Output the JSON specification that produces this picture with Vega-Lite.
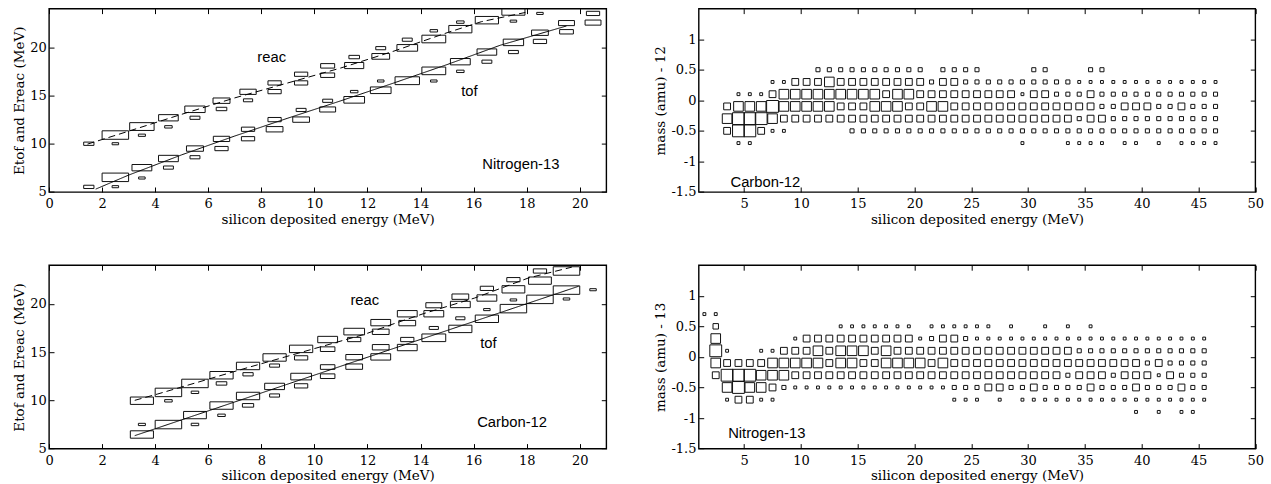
{
"$schema": "https://vega.github.io/schema/vega-lite/v6.json",
"padding": {"left": 12, "top": 6.6, "right": 5, "bottom": 2},
"background": "white",
"config": {
  "view": {"stroke": "black", "strokeWidth": 1.4},
  "axis": {"domain": false, "grid": false, "ticks": true, "tickColor": "black", "tickSize": -5, "tickWidth": 1, "labelFont": "DejaVu Serif", "labelFontSize": 13, "labelColor": "black", "labelFlush": false, "labelOverlap": false, "titleFont": "DejaVu Serif", "titleFontSize": 13.5, "titleFontWeight": "normal", "titleColor": "black"},
  "axisX": {"labelPadding": 10.8, "titlePadding": 1.5},
  "axisY": {"labelPadding": 7.7, "titlePadding": 3}
},
"resolve": {"scale": {"size": "independent", "strokeDash": "independent"}},
"datasets": {
  "tlb": [
    {"x":1.5,"y":10,"n":0.15},{"x":1.5,"y":5.53,"n":0.15},
    {"x":2.5,"y":10.9,"n":1},{"x":2.5,"y":10,"n":0.06},{"x":2.5,"y":6.52,"n":1},{"x":2.5,"y":5.55,"n":0.06},
    {"x":3.5,"y":11.78,"n":0.85},{"x":3.5,"y":10.88,"n":0.07},{"x":3.5,"y":7.52,"n":0.56},{"x":3.5,"y":6.45,"n":0.06},
    {"x":4.5,"y":12.69,"n":0.55},{"x":4.5,"y":11.75,"n":0.08},{"x":4.5,"y":8.47,"n":0.56},{"x":4.5,"y":7.53,"n":0.14},
    {"x":5.5,"y":13.57,"n":0.59},{"x":5.5,"y":12.69,"n":0.14},{"x":5.5,"y":9.5,"n":0.41},{"x":5.5,"y":8.6,"n":0.14},
    {"x":6.5,"y":14.46,"n":0.41},{"x":6.5,"y":13.6,"n":0.16},{"x":6.5,"y":10.5,"n":0.38},{"x":6.5,"y":9.5,"n":0.25},
    {"x":7.5,"y":15.38,"n":0.38},{"x":7.5,"y":14.5,"n":0.12},{"x":7.5,"y":11.5,"n":0.25},{"x":7.5,"y":10.52,"n":0.25},
    {"x":8.5,"y":16.3,"n":0.25},{"x":8.5,"y":15.4,"n":0.25},{"x":8.5,"y":12.5,"n":0.25},{"x":8.5,"y":11.5,"n":0.4},
    {"x":9.5,"y":17.2,"n":0.25},{"x":9.5,"y":16.3,"n":0.25},{"x":9.5,"y":12.5,"n":0.4},{"x":9.5,"y":13.5,"n":0.14},
    {"x":10.5,"y":18.07,"n":0.28},{"x":10.5,"y":17.1,"n":0.28},{"x":10.5,"y":13.55,"n":0.36},{"x":10.5,"y":14.45,"n":0.14},
    {"x":11.5,"y":18.1,"n":0.52},{"x":11.5,"y":18.98,"n":0.16},{"x":11.5,"y":14.55,"n":0.61},{"x":11.5,"y":15.4,"n":0.08},
    {"x":12.5,"y":19.05,"n":0.45},{"x":12.5,"y":19.9,"n":0.14},{"x":12.5,"y":15.54,"n":0.61},{"x":12.5,"y":16.5,"n":0.06},
    {"x":13.5,"y":19.93,"n":0.61},{"x":13.5,"y":20.78,"n":0.14},{"x":13.5,"y":16.53,"n":0.85},
    {"x":14.5,"y":20.85,"n":0.81},{"x":14.5,"y":21.7,"n":0.08},{"x":14.5,"y":17.55,"n":0.81},{"x":14.5,"y":16.5,"n":0.06},
    {"x":15.5,"y":21.87,"n":0.76},{"x":15.5,"y":22.6,"n":0.08},{"x":15.5,"y":18.5,"n":0.56},{"x":15.5,"y":17.5,"n":0.08},
    {"x":16.5,"y":22.8,"n":0.77},{"x":16.5,"y":19.5,"n":0.55},{"x":16.5,"y":18.5,"n":0.14},
    {"x":17.5,"y":23.7,"n":0.76},{"x":17.5,"y":22.7,"n":0.06},{"x":17.5,"y":20.5,"n":0.59},{"x":17.5,"y":19.5,"n":0.14},
    {"x":18.5,"y":23.5,"n":0.06},{"x":18.5,"y":21.5,"n":0.4},{"x":18.5,"y":20.6,"n":0.25},
    {"x":19.5,"y":22.5,"n":0.36},{"x":19.5,"y":21.6,"n":0.27},
    {"x":20.5,"y":23.5,"n":0.25},{"x":20.5,"y":22.55,"n":0.36}
  ],
  "tll": [
    {"s":"tof","x":1.76,"y":5.3},{"s":"tof","x":3,"y":6.75},{"s":"tof","x":5,"y":8.85},{"s":"tof","x":7,"y":10.8},{"s":"tof","x":9,"y":12.65},{"s":"tof","x":11,"y":14.45},{"s":"tof","x":13,"y":16.3},{"s":"tof","x":15,"y":18.2},{"s":"tof","x":17,"y":20.2},{"s":"tof","x":19.5,"y":22.2},
    {"s":"reac","x":1.45,"y":9.96},{"s":"reac","x":3,"y":11.3},{"s":"reac","x":5,"y":13.05},{"s":"reac","x":7,"y":14.75},{"s":"reac","x":9,"y":16.3},{"s":"reac","x":11,"y":17.85},{"s":"reac","x":13,"y":19.6},{"s":"reac","x":15,"y":21.5},{"s":"reac","x":16.3,"y":22.65},{"s":"reac","x":17.95,"y":23.6}
  ],
  "tlt": [{"x":8.39,"y":18.93,"t":"reac"},{"x":15.84,"y":15.41,"t":"tof"},{"x":17.78,"y":7.83,"t":"Nitrogen-13"}],
  "blb": [
    {"x":3.5,"y":9.96,"n":0.76},{"x":3.5,"y":6.46,"n":0.76},{"x":3.5,"y":7.5,"n":0.07},
    {"x":4.5,"y":10.82,"n":1},{"x":4.5,"y":9.95,"n":0.08},{"x":4.5,"y":7.49,"n":1},
    {"x":5.5,"y":11.75,"n":1},{"x":5.5,"y":10.83,"n":0.08},{"x":5.5,"y":8.47,"n":0.74},{"x":5.5,"y":7.5,"n":0.08},
    {"x":6.5,"y":12.6,"n":0.77},{"x":6.5,"y":11.75,"n":0.16},{"x":6.5,"y":9.46,"n":0.77},{"x":6.5,"y":8.45,"n":0.08},
    {"x":7.5,"y":13.56,"n":0.77},{"x":7.5,"y":12.7,"n":0.15},{"x":7.5,"y":10.45,"n":0.77},{"x":7.5,"y":9.48,"n":0.18},
    {"x":8.5,"y":14.44,"n":0.77},{"x":8.5,"y":13.6,"n":0.14},{"x":8.5,"y":11.44,"n":0.56},{"x":8.5,"y":10.5,"n":0.14},
    {"x":9.5,"y":15.33,"n":0.77},{"x":9.5,"y":14.4,"n":0.25},{"x":9.5,"y":12.46,"n":0.61},{"x":9.5,"y":11.5,"n":0.25},
    {"x":10.5,"y":16.3,"n":0.56},{"x":10.5,"y":15.3,"n":0.3},{"x":10.5,"y":13.45,"n":0.3},{"x":10.5,"y":12.5,"n":0.3},
    {"x":11.5,"y":17.12,"n":0.61},{"x":11.5,"y":16.3,"n":0.25},{"x":11.5,"y":14.47,"n":0.4},{"x":11.5,"y":13.49,"n":0.4},
    {"x":12.5,"y":18.05,"n":0.56},{"x":12.5,"y":17.1,"n":0.4},{"x":12.5,"y":15.5,"n":0.4},{"x":12.5,"y":14.5,"n":0.56},
    {"x":13.5,"y":18.97,"n":0.56},{"x":13.5,"y":18.0,"n":0.4},{"x":13.5,"y":16.3,"n":0.25},{"x":13.5,"y":15.47,"n":0.56},
    {"x":14.5,"y":19.85,"n":0.36},{"x":14.5,"y":18.97,"n":0.56},{"x":14.5,"y":16.48,"n":0.81},{"x":14.5,"y":17.5,"n":0.12},
    {"x":15.5,"y":20.74,"n":0.4},{"x":15.5,"y":19.93,"n":0.56},{"x":15.5,"y":17.4,"n":0.76},{"x":15.5,"y":18.5,"n":0.12},
    {"x":16.5,"y":21.6,"n":0.25},{"x":16.5,"y":20.6,"n":0.56},{"x":16.5,"y":18.45,"n":0.77},{"x":16.5,"y":19.4,"n":0.06},
    {"x":17.5,"y":22.5,"n":0.25},{"x":17.5,"y":21.5,"n":0.74},{"x":17.5,"y":19.5,"n":1},{"x":17.5,"y":20.4,"n":0.06},
    {"x":18.5,"y":23.4,"n":0.25},{"x":18.5,"y":22.4,"n":0.74},{"x":18.5,"y":20.46,"n":1},
    {"x":19.5,"y":23.4,"n":1},{"x":19.5,"y":21.42,"n":1},{"x":19.5,"y":20.5,"n":0.06},
    {"x":20.5,"y":21.46,"n":0.06}
  ],
  "bll": [
    {"s":"tof","x":3.23,"y":6.34},{"s":"tof","x":11.5,"y":14.0},{"s":"tof","x":19.96,"y":21.82},
    {"s":"reac","x":3.23,"y":10.0},{"s":"reac","x":4.1,"y":10.66},{"s":"reac","x":7.5,"y":13.4},{"s":"reac","x":11.9,"y":16.85},{"s":"reac","x":13,"y":17.94},{"s":"reac","x":14.1,"y":18.97},{"s":"reac","x":16.04,"y":20.6},{"s":"reac","x":18.07,"y":22.68},{"s":"reac","x":19.7,"y":23.8}
  ],
  "blt": [{"x":11.9,"y":20.28,"t":"reac"},{"x":16.56,"y":15.88,"t":"tof"},{"x":17.45,"y":7.68,"t":"Carbon-12"}],
  "trb": [
    {"x":11.5,"y":0.5,"n":0.1},{"x":12.5,"y":0.5,"n":0.1},{"x":13.5,"y":0.5,"n":0.1},{"x":14.5,"y":0.5,"n":0.1},{"x":15.5,"y":0.5,"n":0.1},{"x":16.5,"y":0.5,"n":0.1},{"x":17.5,"y":0.5,"n":0.1},{"x":18.5,"y":0.5,"n":0.1},{"x":19.5,"y":0.5,"n":0.1},{"x":20.5,"y":0.5,"n":0.1},{"x":22.5,"y":0.5,"n":0.1},{"x":23.5,"y":0.5,"n":0.1},{"x":24.5,"y":0.5,"n":0.1},{"x":25.5,"y":0.5,"n":0.1},{"x":30.5,"y":0.5,"n":0.1},{"x":31.5,"y":0.5,"n":0.1},{"x":35.5,"y":0.5,"n":0.1},{"x":36.5,"y":0.5,"n":0.1},
    {"x":7.5,"y":0.3,"n":0.05},{"x":8.5,"y":0.3,"n":0.05},{"x":9.5,"y":0.3,"n":0.28},{"x":10.5,"y":0.3,"n":0.28},{"x":11.5,"y":0.3,"n":0.28},{"x":12.5,"y":0.3,"n":0.56},{"x":13.5,"y":0.3,"n":0.28},{"x":14.5,"y":0.3,"n":0.28},{"x":15.5,"y":0.3,"n":0.28},{"x":16.5,"y":0.3,"n":0.28},{"x":17.5,"y":0.3,"n":0.28},{"x":18.5,"y":0.3,"n":0.28},{"x":19.5,"y":0.3,"n":0.28},{"x":20.5,"y":0.3,"n":0.28},{"x":21.5,"y":0.3,"n":0.1},{"x":22.5,"y":0.3,"n":0.28},{"x":23.5,"y":0.3,"n":0.28},{"x":24.5,"y":0.3,"n":0.1},{"x":25.5,"y":0.3,"n":0.1},{"x":26.5,"y":0.3,"n":0.1},{"x":27.5,"y":0.3,"n":0.1},{"x":28.5,"y":0.3,"n":0.1},{"x":29.5,"y":0.3,"n":0.1},{"x":30.5,"y":0.3,"n":0.1},{"x":31.5,"y":0.3,"n":0.1},{"x":32.5,"y":0.3,"n":0.1},{"x":33.5,"y":0.3,"n":0.1},{"x":34.5,"y":0.3,"n":0.05},{"x":35.5,"y":0.3,"n":0.05},{"x":36.5,"y":0.3,"n":0.05},{"x":37.5,"y":0.3,"n":0.05},{"x":38.5,"y":0.3,"n":0.05},{"x":39.5,"y":0.3,"n":0.05},{"x":40.5,"y":0.3,"n":0.05},{"x":41.5,"y":0.3,"n":0.05},{"x":42.5,"y":0.3,"n":0.05},{"x":43.5,"y":0.3,"n":0.05},{"x":44.5,"y":0.3,"n":0.05},{"x":45.5,"y":0.3,"n":0.05},{"x":46.5,"y":0.3,"n":0.05},
    {"x":4.5,"y":0.1,"n":0.05},{"x":5.5,"y":0.1,"n":0.05},{"x":6.5,"y":0.1,"n":0.05},{"x":7.5,"y":0.1,"n":0.28},{"x":8.5,"y":0.1,"n":0.56},{"x":9.5,"y":0.1,"n":0.56},{"x":10.5,"y":0.1,"n":0.56},{"x":11.5,"y":0.1,"n":0.56},{"x":12.5,"y":0.1,"n":0.56},{"x":13.5,"y":0.1,"n":0.56},{"x":14.5,"y":0.1,"n":0.56},{"x":15.5,"y":0.1,"n":0.56},{"x":16.5,"y":0.1,"n":0.56},{"x":17.5,"y":0.1,"n":0.28},{"x":18.5,"y":0.1,"n":0.56},{"x":19.5,"y":0.1,"n":0.56},{"x":20.5,"y":0.1,"n":0.28},{"x":21.5,"y":0.1,"n":0.28},{"x":22.5,"y":0.1,"n":0.28},{"x":23.5,"y":0.1,"n":0.28},{"x":24.5,"y":0.1,"n":0.28},{"x":25.5,"y":0.1,"n":0.28},{"x":26.5,"y":0.1,"n":0.28},{"x":27.5,"y":0.1,"n":0.28},{"x":28.5,"y":0.1,"n":0.28},{"x":29.5,"y":0.1,"n":0.05},{"x":30.5,"y":0.1,"n":0.28},{"x":31.5,"y":0.1,"n":0.28},{"x":32.5,"y":0.1,"n":0.1},{"x":33.5,"y":0.1,"n":0.1},{"x":34.5,"y":0.1,"n":0.1},{"x":35.5,"y":0.1,"n":0.28},{"x":36.5,"y":0.1,"n":0.1},{"x":37.5,"y":0.1,"n":0.1},{"x":38.5,"y":0.1,"n":0.1},{"x":39.5,"y":0.1,"n":0.1},{"x":40.5,"y":0.1,"n":0.1},{"x":41.5,"y":0.1,"n":0.1},{"x":42.5,"y":0.1,"n":0.1},{"x":43.5,"y":0.1,"n":0.1},{"x":44.5,"y":0.1,"n":0.1},{"x":45.5,"y":0.1,"n":0.1},{"x":46.5,"y":0.1,"n":0.1},
    {"x":3.5,"y":-0.1,"n":0.28},{"x":4.5,"y":-0.1,"n":0.56},{"x":5.5,"y":-0.1,"n":0.56},{"x":6.5,"y":-0.1,"n":0.56},{"x":7.5,"y":-0.1,"n":0.85},{"x":8.5,"y":-0.1,"n":0.56},{"x":9.5,"y":-0.1,"n":0.56},{"x":10.5,"y":-0.1,"n":0.56},{"x":11.5,"y":-0.1,"n":0.56},{"x":12.5,"y":-0.1,"n":0.56},{"x":13.5,"y":-0.1,"n":0.28},{"x":14.5,"y":-0.1,"n":0.28},{"x":15.5,"y":-0.1,"n":0.28},{"x":16.5,"y":-0.1,"n":0.56},{"x":17.5,"y":-0.1,"n":0.56},{"x":18.5,"y":-0.1,"n":0.56},{"x":19.5,"y":-0.1,"n":0.28},{"x":20.5,"y":-0.1,"n":0.28},{"x":21.5,"y":-0.1,"n":0.56},{"x":22.5,"y":-0.1,"n":0.56},{"x":23.5,"y":-0.1,"n":0.28},{"x":24.5,"y":-0.1,"n":0.28},{"x":25.5,"y":-0.1,"n":0.28},{"x":26.5,"y":-0.1,"n":0.28},{"x":27.5,"y":-0.1,"n":0.28},{"x":28.5,"y":-0.1,"n":0.28},{"x":29.5,"y":-0.1,"n":0.28},{"x":30.5,"y":-0.1,"n":0.28},{"x":31.5,"y":-0.1,"n":0.28},{"x":32.5,"y":-0.1,"n":0.28},{"x":33.5,"y":-0.1,"n":0.28},{"x":34.5,"y":-0.1,"n":0.28},{"x":35.5,"y":-0.1,"n":0.28},{"x":36.5,"y":-0.1,"n":0.1},{"x":37.5,"y":-0.1,"n":0.1},{"x":38.5,"y":-0.1,"n":0.28},{"x":39.5,"y":-0.1,"n":0.28},{"x":40.5,"y":-0.1,"n":0.28},{"x":41.5,"y":-0.1,"n":0.1},{"x":42.5,"y":-0.1,"n":0.1},{"x":43.5,"y":-0.1,"n":0.28},{"x":44.5,"y":-0.1,"n":0.1},{"x":45.5,"y":-0.1,"n":0.1},{"x":46.5,"y":-0.1,"n":0.1},
    {"x":3.5,"y":-0.3,"n":0.56},{"x":4.5,"y":-0.3,"n":0.85},{"x":5.5,"y":-0.3,"n":0.85},{"x":6.5,"y":-0.3,"n":0.85},{"x":7.5,"y":-0.3,"n":0.56},{"x":8.5,"y":-0.3,"n":0.28},{"x":9.5,"y":-0.3,"n":0.28},{"x":10.5,"y":-0.3,"n":0.28},{"x":11.5,"y":-0.3,"n":0.28},{"x":12.5,"y":-0.3,"n":0.28},{"x":13.5,"y":-0.3,"n":0.28},{"x":14.5,"y":-0.3,"n":0.28},{"x":15.5,"y":-0.3,"n":0.28},{"x":16.5,"y":-0.3,"n":0.28},{"x":17.5,"y":-0.3,"n":0.28},{"x":18.5,"y":-0.3,"n":0.28},{"x":19.5,"y":-0.3,"n":0.28},{"x":20.5,"y":-0.3,"n":0.28},{"x":21.5,"y":-0.3,"n":0.28},{"x":22.5,"y":-0.3,"n":0.28},{"x":23.5,"y":-0.3,"n":0.28},{"x":24.5,"y":-0.3,"n":0.28},{"x":25.5,"y":-0.3,"n":0.28},{"x":26.5,"y":-0.3,"n":0.28},{"x":27.5,"y":-0.3,"n":0.28},{"x":28.5,"y":-0.3,"n":0.28},{"x":29.5,"y":-0.3,"n":0.28},{"x":30.5,"y":-0.3,"n":0.28},{"x":31.5,"y":-0.3,"n":0.28},{"x":32.5,"y":-0.3,"n":0.28},{"x":33.5,"y":-0.3,"n":0.28},{"x":34.5,"y":-0.3,"n":0.1},{"x":35.5,"y":-0.3,"n":0.28},{"x":36.5,"y":-0.3,"n":0.28},{"x":37.5,"y":-0.3,"n":0.1},{"x":38.5,"y":-0.3,"n":0.1},{"x":39.5,"y":-0.3,"n":0.1},{"x":40.5,"y":-0.3,"n":0.1},{"x":41.5,"y":-0.3,"n":0.1},{"x":42.5,"y":-0.3,"n":0.1},{"x":43.5,"y":-0.3,"n":0.1},{"x":44.5,"y":-0.3,"n":0.1},{"x":45.5,"y":-0.3,"n":0.1},{"x":46.5,"y":-0.3,"n":0.1},
    {"x":3.5,"y":-0.5,"n":0.28},{"x":4.5,"y":-0.5,"n":0.85},{"x":5.5,"y":-0.5,"n":0.85},{"x":6.5,"y":-0.5,"n":0.28},{"x":7.5,"y":-0.5,"n":0.05},{"x":8.5,"y":-0.5,"n":0.05},{"x":14.5,"y":-0.5,"n":0.1},{"x":15.5,"y":-0.5,"n":0.1},{"x":16.5,"y":-0.5,"n":0.1},{"x":17.5,"y":-0.5,"n":0.1},{"x":18.5,"y":-0.5,"n":0.1},{"x":19.5,"y":-0.5,"n":0.1},{"x":20.5,"y":-0.5,"n":0.1},{"x":21.5,"y":-0.5,"n":0.1},{"x":22.5,"y":-0.5,"n":0.1},{"x":23.5,"y":-0.5,"n":0.1},{"x":24.5,"y":-0.5,"n":0.1},{"x":25.5,"y":-0.5,"n":0.1},{"x":26.5,"y":-0.5,"n":0.1},{"x":27.5,"y":-0.5,"n":0.1},{"x":28.5,"y":-0.5,"n":0.1},{"x":29.5,"y":-0.5,"n":0.1},{"x":30.5,"y":-0.5,"n":0.1},{"x":31.5,"y":-0.5,"n":0.1},{"x":32.5,"y":-0.5,"n":0.1},{"x":33.5,"y":-0.5,"n":0.1},{"x":34.5,"y":-0.5,"n":0.1},{"x":35.5,"y":-0.5,"n":0.1},{"x":36.5,"y":-0.5,"n":0.1},{"x":37.5,"y":-0.5,"n":0.1},{"x":38.5,"y":-0.5,"n":0.1},{"x":39.5,"y":-0.5,"n":0.1},{"x":40.5,"y":-0.5,"n":0.1},{"x":41.5,"y":-0.5,"n":0.1},{"x":42.5,"y":-0.5,"n":0.1},{"x":43.5,"y":-0.5,"n":0.1},{"x":44.5,"y":-0.5,"n":0.1},{"x":45.5,"y":-0.5,"n":0.1},{"x":46.5,"y":-0.5,"n":0.1},
    {"x":4.5,"y":-0.7,"n":0.05},{"x":5.5,"y":-0.7,"n":0.05},{"x":29.5,"y":-0.7,"n":0.05},{"x":33.5,"y":-0.7,"n":0.05},{"x":34.5,"y":-0.7,"n":0.05},{"x":35.5,"y":-0.7,"n":0.05},{"x":36.5,"y":-0.7,"n":0.05},{"x":38.5,"y":-0.7,"n":0.05},{"x":39.5,"y":-0.7,"n":0.05},{"x":41.5,"y":-0.7,"n":0.05},{"x":43.5,"y":-0.7,"n":0.05},{"x":44.5,"y":-0.7,"n":0.05},{"x":45.5,"y":-0.7,"n":0.05},{"x":46.5,"y":-0.7,"n":0.05}
  ],
  "trt": [{"x":6.87,"y":-1.36,"t":"Carbon-12"}],
  "brb": [
    {"x":1.5,"y":0.7,"n":0.05},{"x":2.5,"y":0.7,"n":0.05},
    {"x":2.5,"y":0.5,"n":0.18},{"x":13.5,"y":0.5,"n":0.05},{"x":14.5,"y":0.5,"n":0.05},{"x":15.5,"y":0.5,"n":0.05},{"x":16.5,"y":0.5,"n":0.05},{"x":17.5,"y":0.5,"n":0.05},{"x":18.5,"y":0.5,"n":0.05},{"x":19.5,"y":0.5,"n":0.05},{"x":21.5,"y":0.5,"n":0.05},{"x":22.5,"y":0.5,"n":0.05},{"x":23.5,"y":0.5,"n":0.05},{"x":24.5,"y":0.5,"n":0.05},{"x":25.5,"y":0.5,"n":0.05},{"x":26.5,"y":0.5,"n":0.05},{"x":28.5,"y":0.5,"n":0.05},{"x":31.5,"y":0.5,"n":0.05},{"x":33.5,"y":0.5,"n":0.05},{"x":35.5,"y":0.5,"n":0.05},
    {"x":2.5,"y":0.3,"n":0.56},{"x":9.5,"y":0.3,"n":0.05},{"x":10.5,"y":0.3,"n":0.28},{"x":11.5,"y":0.3,"n":0.28},{"x":12.5,"y":0.3,"n":0.28},{"x":13.5,"y":0.3,"n":0.28},{"x":14.5,"y":0.3,"n":0.28},{"x":15.5,"y":0.3,"n":0.28},{"x":16.5,"y":0.3,"n":0.28},{"x":17.5,"y":0.3,"n":0.28},{"x":18.5,"y":0.3,"n":0.28},{"x":19.5,"y":0.3,"n":0.28},{"x":20.5,"y":0.3,"n":0.05},{"x":21.5,"y":0.3,"n":0.1},{"x":22.5,"y":0.3,"n":0.28},{"x":23.5,"y":0.3,"n":0.28},{"x":24.5,"y":0.3,"n":0.1},{"x":25.5,"y":0.3,"n":0.05},{"x":26.5,"y":0.3,"n":0.05},{"x":27.5,"y":0.3,"n":0.05},{"x":28.5,"y":0.3,"n":0.05},{"x":29.5,"y":0.3,"n":0.05},{"x":30.5,"y":0.3,"n":0.05},{"x":31.5,"y":0.3,"n":0.05},{"x":32.5,"y":0.3,"n":0.05},{"x":33.5,"y":0.3,"n":0.05},{"x":34.5,"y":0.3,"n":0.05},{"x":35.5,"y":0.3,"n":0.05},{"x":36.5,"y":0.3,"n":0.05},{"x":37.5,"y":0.3,"n":0.05},{"x":38.5,"y":0.3,"n":0.05},{"x":39.5,"y":0.3,"n":0.05},{"x":40.5,"y":0.3,"n":0.05},{"x":41.5,"y":0.3,"n":0.05},{"x":42.5,"y":0.3,"n":0.05},{"x":43.5,"y":0.3,"n":0.05},{"x":44.5,"y":0.3,"n":0.05},{"x":45.5,"y":0.3,"n":0.05},
    {"x":2.5,"y":0.1,"n":0.85},{"x":3.5,"y":0.1,"n":0.05},{"x":6.5,"y":0.1,"n":0.05},{"x":7.5,"y":0.1,"n":0.05},{"x":8.5,"y":0.1,"n":0.28},{"x":9.5,"y":0.1,"n":0.28},{"x":10.5,"y":0.1,"n":0.28},{"x":11.5,"y":0.1,"n":0.56},{"x":12.5,"y":0.1,"n":0.28},{"x":13.5,"y":0.1,"n":0.56},{"x":14.5,"y":0.1,"n":0.56},{"x":15.5,"y":0.1,"n":0.56},{"x":16.5,"y":0.1,"n":0.28},{"x":17.5,"y":0.1,"n":0.56},{"x":18.5,"y":0.1,"n":0.28},{"x":19.5,"y":0.1,"n":0.28},{"x":20.5,"y":0.1,"n":0.28},{"x":21.5,"y":0.1,"n":0.28},{"x":22.5,"y":0.1,"n":0.28},{"x":23.5,"y":0.1,"n":0.28},{"x":24.5,"y":0.1,"n":0.28},{"x":25.5,"y":0.1,"n":0.28},{"x":26.5,"y":0.1,"n":0.28},{"x":27.5,"y":0.1,"n":0.28},{"x":28.5,"y":0.1,"n":0.28},{"x":29.5,"y":0.1,"n":0.28},{"x":30.5,"y":0.1,"n":0.28},{"x":31.5,"y":0.1,"n":0.28},{"x":32.5,"y":0.1,"n":0.28},{"x":33.5,"y":0.1,"n":0.28},{"x":34.5,"y":0.1,"n":0.1},{"x":35.5,"y":0.1,"n":0.1},{"x":36.5,"y":0.1,"n":0.1},{"x":37.5,"y":0.1,"n":0.1},{"x":38.5,"y":0.1,"n":0.1},{"x":39.5,"y":0.1,"n":0.1},{"x":40.5,"y":0.1,"n":0.1},{"x":41.5,"y":0.1,"n":0.1},{"x":42.5,"y":0.1,"n":0.1},{"x":43.5,"y":0.1,"n":0.1},{"x":44.5,"y":0.1,"n":0.1},{"x":45.5,"y":0.1,"n":0.1},
    {"x":2.5,"y":-0.1,"n":0.56},{"x":3.5,"y":-0.1,"n":0.28},{"x":4.5,"y":-0.1,"n":0.28},{"x":5.5,"y":-0.1,"n":0.28},{"x":6.5,"y":-0.1,"n":0.28},{"x":7.5,"y":-0.1,"n":0.56},{"x":8.5,"y":-0.1,"n":0.56},{"x":9.5,"y":-0.1,"n":0.56},{"x":10.5,"y":-0.1,"n":0.56},{"x":11.5,"y":-0.1,"n":0.56},{"x":12.5,"y":-0.1,"n":0.28},{"x":13.5,"y":-0.1,"n":0.56},{"x":14.5,"y":-0.1,"n":0.56},{"x":15.5,"y":-0.1,"n":0.28},{"x":16.5,"y":-0.1,"n":0.28},{"x":17.5,"y":-0.1,"n":0.56},{"x":18.5,"y":-0.1,"n":0.56},{"x":19.5,"y":-0.1,"n":0.56},{"x":20.5,"y":-0.1,"n":0.56},{"x":21.5,"y":-0.1,"n":0.28},{"x":22.5,"y":-0.1,"n":0.56},{"x":23.5,"y":-0.1,"n":0.28},{"x":24.5,"y":-0.1,"n":0.28},{"x":25.5,"y":-0.1,"n":0.28},{"x":26.5,"y":-0.1,"n":0.28},{"x":27.5,"y":-0.1,"n":0.28},{"x":28.5,"y":-0.1,"n":0.28},{"x":29.5,"y":-0.1,"n":0.28},{"x":30.5,"y":-0.1,"n":0.28},{"x":31.5,"y":-0.1,"n":0.28},{"x":32.5,"y":-0.1,"n":0.28},{"x":33.5,"y":-0.1,"n":0.28},{"x":34.5,"y":-0.1,"n":0.28},{"x":35.5,"y":-0.1,"n":0.28},{"x":36.5,"y":-0.1,"n":0.28},{"x":37.5,"y":-0.1,"n":0.28},{"x":38.5,"y":-0.1,"n":0.28},{"x":39.5,"y":-0.1,"n":0.28},{"x":40.5,"y":-0.1,"n":0.1},{"x":41.5,"y":-0.1,"n":0.28},{"x":42.5,"y":-0.1,"n":0.1},{"x":43.5,"y":-0.1,"n":0.1},{"x":44.5,"y":-0.1,"n":0.1},{"x":45.5,"y":-0.1,"n":0.1},
    {"x":2.5,"y":-0.3,"n":0.28},{"x":3.5,"y":-0.3,"n":0.85},{"x":4.5,"y":-0.3,"n":0.85},{"x":5.5,"y":-0.3,"n":0.85},{"x":6.5,"y":-0.3,"n":0.56},{"x":7.5,"y":-0.3,"n":0.56},{"x":8.5,"y":-0.3,"n":0.56},{"x":9.5,"y":-0.3,"n":0.28},{"x":10.5,"y":-0.3,"n":0.28},{"x":11.5,"y":-0.3,"n":0.28},{"x":12.5,"y":-0.3,"n":0.28},{"x":13.5,"y":-0.3,"n":0.28},{"x":14.5,"y":-0.3,"n":0.28},{"x":15.5,"y":-0.3,"n":0.28},{"x":16.5,"y":-0.3,"n":0.28},{"x":17.5,"y":-0.3,"n":0.28},{"x":18.5,"y":-0.3,"n":0.28},{"x":19.5,"y":-0.3,"n":0.28},{"x":20.5,"y":-0.3,"n":0.28},{"x":21.5,"y":-0.3,"n":0.28},{"x":22.5,"y":-0.3,"n":0.28},{"x":23.5,"y":-0.3,"n":0.28},{"x":24.5,"y":-0.3,"n":0.28},{"x":25.5,"y":-0.3,"n":0.28},{"x":26.5,"y":-0.3,"n":0.28},{"x":27.5,"y":-0.3,"n":0.28},{"x":28.5,"y":-0.3,"n":0.28},{"x":29.5,"y":-0.3,"n":0.28},{"x":30.5,"y":-0.3,"n":0.28},{"x":31.5,"y":-0.3,"n":0.28},{"x":32.5,"y":-0.3,"n":0.28},{"x":33.5,"y":-0.3,"n":0.1},{"x":34.5,"y":-0.3,"n":0.28},{"x":35.5,"y":-0.3,"n":0.28},{"x":36.5,"y":-0.3,"n":0.28},{"x":37.5,"y":-0.3,"n":0.1},{"x":38.5,"y":-0.3,"n":0.28},{"x":39.5,"y":-0.3,"n":0.28},{"x":40.5,"y":-0.3,"n":0.28},{"x":41.5,"y":-0.3,"n":0.05},{"x":42.5,"y":-0.3,"n":0.28},{"x":43.5,"y":-0.3,"n":0.1},{"x":44.5,"y":-0.3,"n":0.1},{"x":45.5,"y":-0.3,"n":0.1},
    {"x":3.5,"y":-0.5,"n":0.56},{"x":4.5,"y":-0.5,"n":0.85},{"x":5.5,"y":-0.5,"n":0.56},{"x":6.5,"y":-0.5,"n":0.56},{"x":7.5,"y":-0.5,"n":0.28},{"x":8.5,"y":-0.5,"n":0.1},{"x":9.5,"y":-0.5,"n":0.05},{"x":10.5,"y":-0.5,"n":0.05},{"x":11.5,"y":-0.5,"n":0.05},{"x":12.5,"y":-0.5,"n":0.05},{"x":13.5,"y":-0.5,"n":0.05},{"x":14.5,"y":-0.5,"n":0.05},{"x":15.5,"y":-0.5,"n":0.05},{"x":16.5,"y":-0.5,"n":0.05},{"x":17.5,"y":-0.5,"n":0.05},{"x":18.5,"y":-0.5,"n":0.05},{"x":19.5,"y":-0.5,"n":0.05},{"x":20.5,"y":-0.5,"n":0.05},{"x":21.5,"y":-0.5,"n":0.05},{"x":22.5,"y":-0.5,"n":0.05},{"x":23.5,"y":-0.5,"n":0.1},{"x":24.5,"y":-0.5,"n":0.1},{"x":25.5,"y":-0.5,"n":0.1},{"x":26.5,"y":-0.5,"n":0.28},{"x":27.5,"y":-0.5,"n":0.28},{"x":28.5,"y":-0.5,"n":0.1},{"x":29.5,"y":-0.5,"n":0.1},{"x":30.5,"y":-0.5,"n":0.28},{"x":31.5,"y":-0.5,"n":0.1},{"x":32.5,"y":-0.5,"n":0.1},{"x":33.5,"y":-0.5,"n":0.1},{"x":34.5,"y":-0.5,"n":0.1},{"x":35.5,"y":-0.5,"n":0.28},{"x":36.5,"y":-0.5,"n":0.1},{"x":37.5,"y":-0.5,"n":0.1},{"x":38.5,"y":-0.5,"n":0.1},{"x":39.5,"y":-0.5,"n":0.28},{"x":40.5,"y":-0.5,"n":0.1},{"x":41.5,"y":-0.5,"n":0.1},{"x":42.5,"y":-0.5,"n":0.1},{"x":43.5,"y":-0.5,"n":0.28},{"x":44.5,"y":-0.5,"n":0.1},{"x":45.5,"y":-0.5,"n":0.1},
    {"x":3.5,"y":-0.7,"n":0.05},{"x":4.5,"y":-0.7,"n":0.28},{"x":5.5,"y":-0.7,"n":0.28},{"x":6.5,"y":-0.7,"n":0.05},{"x":7.5,"y":-0.7,"n":0.05},{"x":23.5,"y":-0.7,"n":0.05},{"x":24.5,"y":-0.7,"n":0.05},{"x":25.5,"y":-0.7,"n":0.05},{"x":27.5,"y":-0.7,"n":0.05},{"x":29.5,"y":-0.7,"n":0.05},{"x":30.5,"y":-0.7,"n":0.05},{"x":31.5,"y":-0.7,"n":0.05},{"x":32.5,"y":-0.7,"n":0.05},{"x":33.5,"y":-0.7,"n":0.05},{"x":34.5,"y":-0.7,"n":0.05},{"x":35.5,"y":-0.7,"n":0.05},{"x":36.5,"y":-0.7,"n":0.05},{"x":37.5,"y":-0.7,"n":0.05},{"x":38.5,"y":-0.7,"n":0.05},{"x":39.5,"y":-0.7,"n":0.05},{"x":40.5,"y":-0.7,"n":0.05},{"x":41.5,"y":-0.7,"n":0.05},{"x":42.5,"y":-0.7,"n":0.05},{"x":43.5,"y":-0.7,"n":0.05},{"x":44.5,"y":-0.7,"n":0.05},{"x":45.5,"y":-0.7,"n":0.05},
    {"x":39.5,"y":-0.9,"n":0.05},{"x":41.5,"y":-0.9,"n":0.05},{"x":43.5,"y":-0.9,"n":0.05},{"x":44.5,"y":-0.9,"n":0.05}
  ],
  "brt": [{"x":6.99,"y":-1.26,"t":"Nitrogen-13"}]
},
"columns": 2,
"bounds": "flush",
"spacing": {"row": 72.6, "column": 91.7},
"concat": [
  {
    "width": 557.3, "height": 183.4,
    "resolve": {"axis": {"x": "independent", "y": "independent"}},
    "layer": [
      {"data": {"name": "tlb"},
       "mark": {"type": "point", "shape": "M-1,-0.32H1V0.32H-1Z", "filled": false, "stroke": "#111", "strokeWidth": 1, "opacity": 1, "clip": true},
       "encoding": {
         "x": {"field": "x", "type": "quantitative", "scale": {"domain": [0, 21], "nice": false, "zero": false}, "axis": {"values": [0,2,4,6,8,10,12,14,16,18,20], "title": "silicon deposited energy (MeV)"}},
         "y": {"field": "y", "type": "quantitative", "scale": {"domain": [5, 24], "nice": false, "zero": false}, "axis": {"values": [5,10,15,20], "title": "Etof and Ereac (MeV)"}},
         "size": {"field": "n", "type": "quantitative", "scale": {"domain": [0, 1], "range": [0, 702]}, "legend": null}
       }},
      {"data": {"name": "tll"},
       "mark": {"type": "line", "color": "black", "strokeWidth": 1, "clip": true},
       "encoding": {
         "x": {"field": "x", "type": "quantitative", "scale": {"domain": [0, 21], "nice": false, "zero": false}, "axis": {"orient": "top", "labels": false, "title": null, "values": [0,2,4,6,8,10,12,14,16,18,20]}},
         "y": {"field": "y", "type": "quantitative", "scale": {"domain": [5, 24], "nice": false, "zero": false}, "axis": {"orient": "right", "labels": false, "title": null, "values": [5,10,15,20]}},
         "strokeDash": {"field": "s", "type": "nominal", "scale": {"domain": ["tof", "reac"], "range": [[1, 0], [7, 4]]}, "legend": null}
       }},
      {"data": {"name": "tlt"},
       "mark": {"type": "text", "font": "Liberation Sans", "fontSize": 14.8, "color": "black", "baseline": "middle", "align": "center"},
       "encoding": {
         "x": {"field": "x", "type": "quantitative", "axis": null},
         "y": {"field": "y", "type": "quantitative", "axis": null},
         "text": {"field": "t"}
       }}
    ]
  },
  {
    "width": 556.6, "height": 183.4,
    "resolve": {"axis": {"x": "independent", "y": "independent"}},
    "layer": [
      {"data": {"name": "trb"},
       "mark": {"type": "point", "shape": "square", "filled": false, "stroke": "#111", "strokeWidth": 1, "opacity": 1},
       "encoding": {
         "x": {"field": "x", "type": "quantitative", "scale": {"domain": [1, 50], "nice": false, "zero": false}, "axis": {"values": [5,10,15,20,25,30,35,40,45,50], "title": "silicon deposited energy (MeV)"}},
         "y": {"field": "y", "type": "quantitative", "scale": {"domain": [-1.5, 1.5], "nice": false, "zero": false}, "axis": {"values": [-1.5,-1,-0.5,0,0.5,1], "labelExpr": "'' + datum.value", "title": "mass (amu) - 12"}},
         "size": {"field": "n", "type": "quantitative", "scale": {"domain": [0, 1], "range": [0, 165]}, "legend": null}
       }},
      {"data": {"name": "trt"},
       "mark": {"type": "text", "font": "Liberation Sans", "fontSize": 14.8, "color": "black", "baseline": "middle", "align": "center"},
       "encoding": {
         "x": {"field": "x", "type": "quantitative", "scale": {"domain": [1, 50], "nice": false, "zero": false}, "axis": {"orient": "top", "labels": false, "title": null, "values": [5,10,15,20,25,30,35,40,45,50]}},
         "y": {"field": "y", "type": "quantitative", "scale": {"domain": [-1.5, 1.5], "nice": false, "zero": false}, "axis": {"orient": "right", "labels": false, "title": null, "values": [-1,-0.5,0,0.5,1]}},
         "text": {"field": "t"}
       }}
    ]
  },
  {
    "width": 557.3, "height": 183.4,
    "resolve": {"axis": {"x": "independent", "y": "independent"}},
    "layer": [
      {"data": {"name": "blb"},
       "mark": {"type": "point", "shape": "M-1,-0.32H1V0.32H-1Z", "filled": false, "stroke": "#111", "strokeWidth": 1, "opacity": 1, "clip": true},
       "encoding": {
         "x": {"field": "x", "type": "quantitative", "scale": {"domain": [0, 21], "nice": false, "zero": false}, "axis": {"values": [0,2,4,6,8,10,12,14,16,18,20], "title": "silicon deposited energy (MeV)"}},
         "y": {"field": "y", "type": "quantitative", "scale": {"domain": [5, 24], "nice": false, "zero": false}, "axis": {"values": [5,10,15,20], "title": "Etof and Ereac (MeV)"}},
         "size": {"field": "n", "type": "quantitative", "scale": {"domain": [0, 1], "range": [0, 702]}, "legend": null}
       }},
      {"data": {"name": "bll"},
       "mark": {"type": "line", "color": "black", "strokeWidth": 1, "clip": true},
       "encoding": {
         "x": {"field": "x", "type": "quantitative", "scale": {"domain": [0, 21], "nice": false, "zero": false}, "axis": {"orient": "top", "labels": false, "title": null, "values": [0,2,4,6,8,10,12,14,16,18,20]}},
         "y": {"field": "y", "type": "quantitative", "scale": {"domain": [5, 24], "nice": false, "zero": false}, "axis": {"orient": "right", "labels": false, "title": null, "values": [5,10,15,20]}},
         "strokeDash": {"field": "s", "type": "nominal", "scale": {"domain": ["tof", "reac"], "range": [[1, 0], [7, 4]]}, "legend": null}
       }},
      {"data": {"name": "blt"},
       "mark": {"type": "text", "font": "Liberation Sans", "fontSize": 14.8, "color": "black", "baseline": "middle", "align": "center"},
       "encoding": {
         "x": {"field": "x", "type": "quantitative", "axis": null},
         "y": {"field": "y", "type": "quantitative", "axis": null},
         "text": {"field": "t"}
       }}
    ]
  },
  {
    "width": 556.6, "height": 183.4,
    "resolve": {"axis": {"x": "independent", "y": "independent"}},
    "layer": [
      {"data": {"name": "brb"},
       "mark": {"type": "point", "shape": "square", "filled": false, "stroke": "#111", "strokeWidth": 1, "opacity": 1},
       "encoding": {
         "x": {"field": "x", "type": "quantitative", "scale": {"domain": [1, 50], "nice": false, "zero": false}, "axis": {"values": [5,10,15,20,25,30,35,40,45,50], "title": "silicon deposited energy (MeV)"}},
         "y": {"field": "y", "type": "quantitative", "scale": {"domain": [-1.5, 1.5], "nice": false, "zero": false}, "axis": {"values": [-1.5,-1,-0.5,0,0.5,1], "labelExpr": "'' + datum.value", "title": "mass (amu) - 13"}},
         "size": {"field": "n", "type": "quantitative", "scale": {"domain": [0, 1], "range": [0, 165]}, "legend": null}
       }},
      {"data": {"name": "brt"},
       "mark": {"type": "text", "font": "Liberation Sans", "fontSize": 14.8, "color": "black", "baseline": "middle", "align": "center"},
       "encoding": {
         "x": {"field": "x", "type": "quantitative", "scale": {"domain": [1, 50], "nice": false, "zero": false}, "axis": {"orient": "top", "labels": false, "title": null, "values": [5,10,15,20,25,30,35,40,45,50]}},
         "y": {"field": "y", "type": "quantitative", "scale": {"domain": [-1.5, 1.5], "nice": false, "zero": false}, "axis": {"orient": "right", "labels": false, "title": null, "values": [-1,-0.5,0,0.5,1]}},
         "text": {"field": "t"}
       }}
    ]
  }
]
}
